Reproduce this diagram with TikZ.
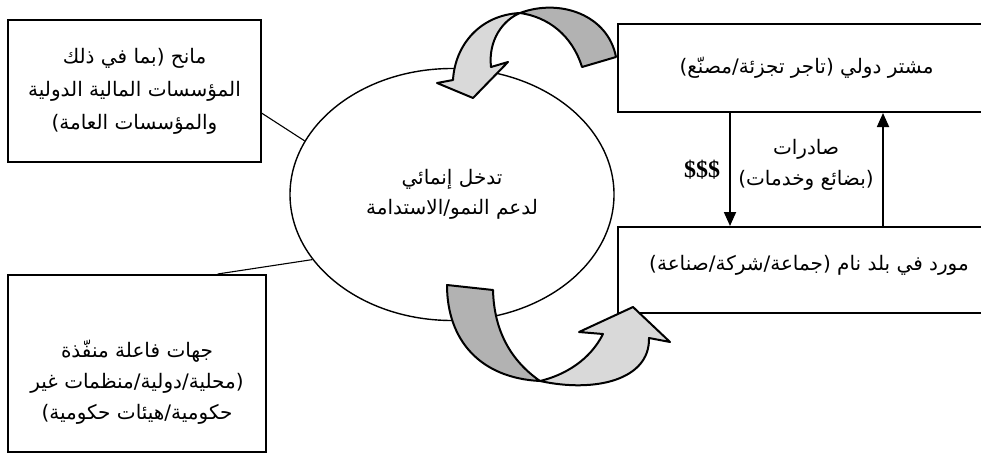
\documentclass[tikz,border=0pt]{standalone}
\usepackage{fontspec}
\setmainfont{Liberation Serif}
\newfontfamily\arabicfont[Script=Arabic]{DejaVu Sans}
\TeXXeTstate=1
\usetikzlibrary{arrows.meta,shapes.geometric,calc}
\newcommand{\ar}[1]{\beginR #1\endR}

\begin{document}
\begin{tikzpicture}[
  x=1pt, y=-1pt,
  box/.style={draw=black, line width=2pt, inner sep=0pt, align=center,
              font=\arabicfont\fontsize{20}{33}\selectfont},
  bubble/.style={draw=black, line width=1.4pt, ellipse, inner sep=0pt,
                 minimum width=324pt, minimum height=252pt, align=center,
                 font=\arabicfont\fontsize{20}{30}\selectfont},
  txt/.style={align=center, inner sep=0pt, font=\arabicfont\fontsize{20}{31}\selectfont},
  link/.style={draw=black, line width=1.1pt},
  flow/.style={-{Triangle[length=14pt,width=12pt]}, line width=1.8pt},
  ribbon/.style={draw=black, line width=2pt, line join=round},
  back/.style={ribbon, fill=black!30},
  front/.style={ribbon, fill=black!15},
]
  \useasboundingbox (0,0) rectangle (981,455);

  %% the two boxes on the left
  \node[box, minimum width=253pt, minimum height=142pt] (donor) at (134.5,91)
    {\ar{مانح (بما في ذلك}\\\ar{المؤسسات المالية الدولية}\\\ar{والمؤسسات العامة)}};
  \node[box, minimum width=258pt, minimum height=177pt] (actors) at (137,363.5) {};
  \node[txt] (actorstxt) at (137,382)
    {\ar{جهات فاعلة منفّذة}\\\ar{(محلية/دولية/منظمات غير}\\\ar{حكومية/هيئات حكومية)}};

  %% the ellipse in the middle
  \node[bubble] (aid) at (452,194.5)
    {\ar{تدخل إنمائي}\\\ar{لدعم النمو/الاستدامة}};

  %% the two boxes on the right
  \node[box, minimum width=377pt, minimum height=88pt] (buyer) at (806.5,68)
    {\ar{مشتر دولي (تاجر تجزئة/مصنّع)}};
  \node[box, minimum width=377pt, minimum height=86pt] (supplier) at (806.5,270) {};
  \node[txt] (suppliertxt) at (809,265) {\ar{مورد في بلد نام (جماعة/شركة/صناعة)}};

  %% lines from the boxes to the ellipse
  \draw[link] ($(donor.south east)!0.345!(donor.north east)$) -- (aid.160);
  \draw[link] ($(actors.north west)!0.81!(actors.north east)$) -- (aid.205);

  %% money down, exports up
  \coordinate (down) at (730,0);
  \coordinate (up) at (883,0);
  \draw[flow] (buyer.south -| down) -- (supplier.north -| down);
  \draw[flow] (supplier.north -| up) -- (buyer.south -| up);
  \node[font=\bfseries\fontsize{24}{26}\selectfont, inner sep=0pt] (money) at (702,170) {\$\$\$};
  \node[txt] (exports) at (806,165) {\ar{صادرات}\\\ar{(بضائع وخدمات)}};

  %% twisted arrow on top
  \draw[back] (520,13) .. controls (560,-2) and (608,15) .. (616,57)
    -- (582,67) .. controls (572,35) and (548,17) .. cycle;
  \draw[front] (520,13) .. controls (480,15) and (455,45) .. (453,80)
    -- (437,83) -- (473,98) -- (508,62) -- (491,67)
    .. controls (488,40) and (503,20) .. cycle;

  %% twisted arrow below
  \draw[back] (447,285) .. controls (447,340) and (480,378) .. (540,381)
    .. controls (510,360) and (494,330) .. (493,290) -- cycle;
  \draw[front] (540,381) .. controls (595,393) and (650,380) .. (649,338)
    -- (670,342) -- (633,307) -- (579,332) -- (603,334)
    .. controls (590,360) and (565,375) .. cycle;
\end{tikzpicture}
\end{document}
